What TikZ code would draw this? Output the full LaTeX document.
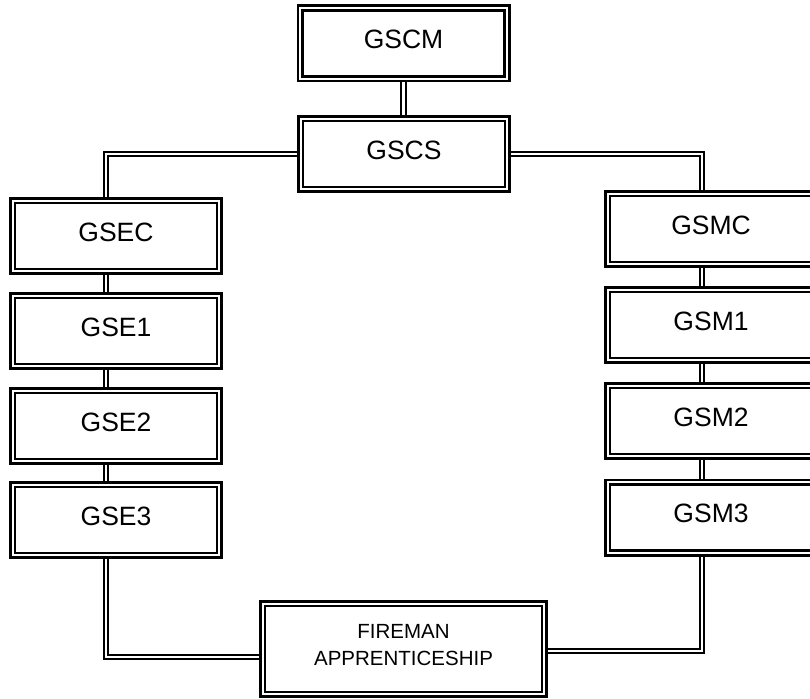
\documentclass[tikz,border=0pt]{standalone}
\usepackage{fontspec}
\setmainfont{Liberation Sans}
\usetikzlibrary{backgrounds}
\tikzset{
  box/.style={draw=black, line width=2.6pt, double=white, double distance=2.2pt,
    inner sep=0pt, minimum width=206.6pt, minimum height=70.6pt},
  bigbox/.style={box, minimum width=281.6pt, minimum height=90.6pt},
  lbl/.style={yshift=4pt, font=\fontsize{26.5}{31}\selectfont, inner sep=0pt},
  smalllbl/.style={yshift=4pt, font=\fontsize{20.5}{26.5}\selectfont, inner sep=0pt, align=center},
  conn/.style={draw=black, line width=2.2pt, double=white, double distance=2.2pt}
}
\begin{document}
\begin{tikzpicture}[x=1pt, y=-1pt]
\useasboundingbox (0,0) rectangle (810,698);
\clip (0,0) rectangle (810,698);
\node[box, label={[lbl]center:GSCM}] (gscm) at (403.5,43.5) {};
\node[box, label={[lbl]center:GSCS}] (gscs) at (404,154) {};
\node[box, label={[lbl]center:GSEC}] (gsec) at (116,236) {};
\node[box, label={[lbl]center:GSE1}] (gse1) at (116,331) {};
\node[box, label={[lbl]center:GSE2}] (gse2) at (116,426) {};
\node[box, label={[lbl]center:GSE3}] (gse3) at (116,520) {};
\node[box, label={[lbl]center:GSMC}] (gsmc) at (711,229) {};
\node[box, label={[lbl]center:GSM1}] (gsm1) at (711,325) {};
\node[box, label={[lbl]center:GSM2}] (gsm2) at (711,421) {};
\node[box, label={[lbl]center:GSM3}] (gsm3) at (711,517.5) {};
\node[bigbox, label={[smalllbl]center:FIREMAN\\APPRENTICESHIP}] (fire) at (403.5,649) {};
\coordinate (lx) at (106,154);
\coordinate (rx) at (702,154);
\coordinate (lc) at (106,657);
\coordinate (rc) at (702,651);
\begin{scope}[on background layer]
\draw[conn] (gscm.south) -- (gscm.south |- gscs.north);
\draw[conn] (gscs.west) -- (lx) -- (lx |- gsec.north);
\draw[conn] (gscs.east) -- (rx) -- (rx |- gsmc.north);
\draw[conn] (gsec.south -| lx) -- (gse1.north -| lx);
\draw[conn] (gse1.south -| lx) -- (gse2.north -| lx);
\draw[conn] (gse2.south -| lx) -- (gse3.north -| lx);
\draw[conn] (gsmc.south -| rx) -- (gsm1.north -| rx);
\draw[conn] (gsm1.south -| rx) -- (gsm2.north -| rx);
\draw[conn] (gsm2.south -| rx) -- (gsm3.north -| rx);
\draw[conn] (gse3.south -| lc) -- (lc) -- (lc -| fire.west);
\draw[conn] (gsm3.south -| rc) -- (rc) -- (rc -| fire.east);
\end{scope}
\end{tikzpicture}
\end{document}
